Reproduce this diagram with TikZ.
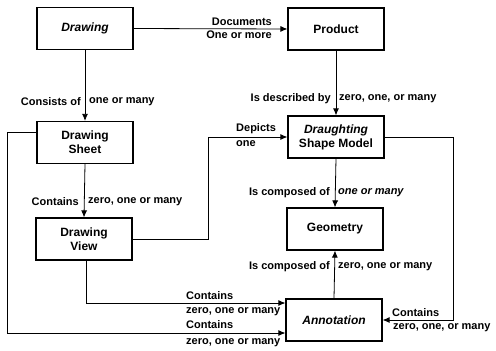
\documentclass[tikz,border=0pt]{standalone}
\usepackage{fontspec}
\setmainfont{Liberation Sans}
\usetikzlibrary{arrows.meta}
\begin{document}
\begin{tikzpicture}[x=1pt,y=-1pt,
  entity/.style={draw,line width=1.2pt,minimum width=96pt,minimum height=42pt,
    align=center,font=\fontsize{12}{14}\selectfont\bfseries,inner sep=0pt},
  link/.style={line width=0.8pt,-{Latex[length=7pt,width=6pt]}},
  lbl/.style={font=\fontsize{11}{12}\selectfont\bfseries,inner sep=0pt}]
\useasboundingbox (0,0) rectangle (496,351);

% entities
\node[entity] (drw)   at (85,28.5)  {\itshape Drawing};
\node[entity] (prod)  at (336,29)   {Product};
\node[entity] (sheet) at (85,142.5) {Drawing\\Sheet};
\node[entity] (dsm)   at (336,137)  {\itshape Draughting\\Shape Model};
\node[entity] (view)  at (84,239)   {Drawing\\View};
\node[entity] (geo)   at (335,229)  {Geometry};
\node[entity] (ann)   at (334,320)  {\itshape Annotation};

% bend points
\coordinate (jv) at (208,0);
\coordinate (jr) at (453,0);
\coordinate (jl) at (7,0);
\coordinate (jb1) at (0,303);
\coordinate (jb2) at (0,333);

% relationships
\draw[link] (drw.east) -- (prod.west);
\draw[link] (drw.south) -- (sheet.north);
\draw[link] (prod.south) -- (dsm.north);
\draw[link] (sheet.south) -- (view.north);
\draw[link] (view.east) -- (view.east -| jv) |- (dsm.west);
\draw[link] (dsm.south) -- (geo.north);
\draw[link] (ann.north) -- (geo.south);
\draw[link] (dsm.east) -- (dsm.east -| jr) |- (ann.east);
\draw[link] ([xshift=2pt]view.south) -- ([xshift=2pt]view.south |- jb1) -- (ann.west |- jb1);
\draw[link] ([yshift=10pt]sheet.west) -- ([yshift=10pt]sheet.west -| jl) -- (jl |- jb2) -- (ann.west |- jb2);

% relationship labels
\node[lbl,anchor=south east] at (272,26) {Documents};
\node[lbl,anchor=north east] at (272,31) {One or more};
\node[lbl,anchor=east] at (81,102) {Consists of};
\node[lbl,anchor=west] at (89,102) {one or many};
\node[lbl,anchor=east] at (331,99) {Is described by};
\node[lbl,anchor=west] at (339,99) {zero, one, or many};
\node[lbl,anchor=west] at (236,129) {Depicts};
\node[lbl,anchor=west] at (236,144) {one};
\node[lbl,anchor=east] at (79,202) {Contains};
\node[lbl,anchor=west] at (88,202) {zero, one or many};
\node[lbl,anchor=east] at (330,193) {Is composed of};
\node[lbl,anchor=west] at (338,193) {\itshape one or many};
\node[lbl,anchor=east] at (330,267) {Is composed of};
\node[lbl,anchor=west] at (338,267) {zero, one or many};
\node[lbl,anchor=west] at (186,296) {Contains};
\node[lbl,anchor=west] at (186,312) {zero, one or many};
\node[lbl,anchor=west] at (186,325) {Contains};
\node[lbl,anchor=west] at (186,343) {zero, one or many};
\node[lbl,anchor=west] at (392,313) {Contains};
\node[lbl,anchor=west] at (393,328) {zero, one, or many};
\end{tikzpicture}
\end{document}
